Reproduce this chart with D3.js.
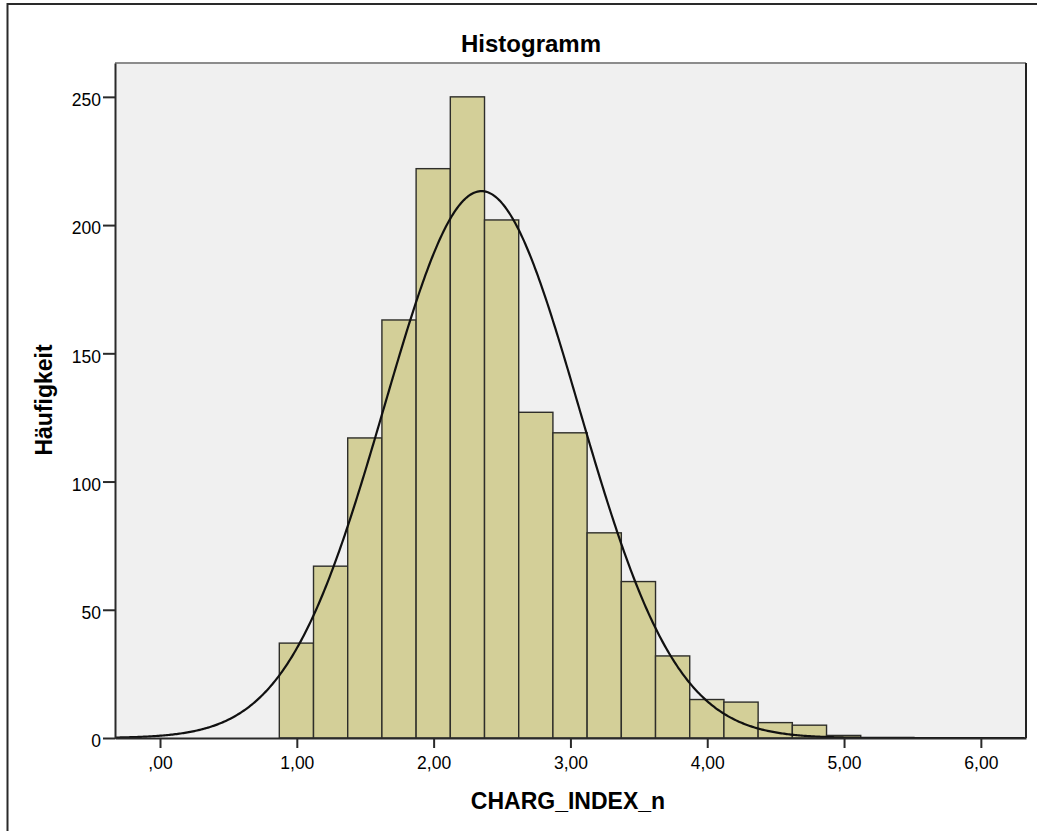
<!DOCTYPE html>
<html>
<head>
<meta charset="utf-8">
<script src="https://cdn.jsdelivr.net/npm/d3@7"></script>
<style>
  html, body { margin: 0; padding: 0; background: #ffffff; }
  svg { display: block; }
  text { font-family: "Liberation Sans", Arial, sans-serif; fill: #000; }
</style>
</head>
<body>
<svg id="chart" width="1037" height="831"></svg>
<script>
// Histogram bins (lower edges) and frequencies
const binLower = [0.872, 1.122, 1.372, 1.622, 1.872, 2.122, 2.372, 2.622, 2.872,
                  3.122, 3.372, 3.622, 3.872, 4.122, 4.372, 4.622, 4.872];
const binWidth = 0.25;
const counts = [37, 67, 117, 163, 222, 250, 202, 127, 119, 80, 61, 32, 15, 14, 6, 5, 1];

// Fitted normal distribution
const mean = 2.35;
const stdDev = 0.71;

// Axis ticks
const xTicks = [0, 1, 2, 3, 4, 5, 6];
const yTicks = [0, 50, 100, 150, 200, 250];

const xDomain = [-0.329, 6.33];
const yDomain = [0, 263.2];

const titleText = "Histogramm";
const xLabel = "CHARG_INDEX_n";
const yLabel = "Häufigkeit";

const plot = { left: 115, top: 63, right: 1026, bottom: 738 };

const svg = d3.select("#chart");

// outer frame (extends past the visible area on the right and bottom)
svg.append("rect")
  .attr("x", 7.5).attr("y", 4)
  .attr("width", 1100).attr("height", 900)
  .attr("fill", "none").attr("stroke", "#2a2a2a").attr("stroke-width", 2);

const x = d3.scaleLinear().domain(xDomain).range([plot.left, plot.right]);
const y = d3.scaleLinear().domain(yDomain).range([plot.bottom, plot.top]);

// plot background
svg.append("rect")
  .attr("x", plot.left).attr("y", plot.top)
  .attr("width", plot.right - plot.left).attr("height", plot.bottom - plot.top)
  .attr("fill", "#f0f0f0");

// bars
svg.append("g").selectAll("rect")
  .data(counts)
  .join("rect")
  .attr("x", (d, i) => x(binLower[i]))
  .attr("y", d => y(d))
  .attr("width", (d, i) => x(binLower[i] + binWidth) - x(binLower[i]))
  .attr("height", d => y(0) - y(d))
  .attr("fill", "#d3cf98")
  .attr("stroke", "#2e2e2a")
  .attr("stroke-width", 1.4);

// normal curve scaled to counts
const n = d3.sum(counts);
const density = v => n * binWidth / (stdDev * Math.sqrt(2 * Math.PI)) *
  Math.exp(-0.5 * Math.pow((v - mean) / stdDev, 2));
const curvePts = d3.range(xDomain[0], xDomain[1] + 0.001, 0.01).map(v => [v, density(v)]);
svg.append("path")
  .datum(curvePts)
  .attr("fill", "none")
  .attr("stroke", "#111")
  .attr("stroke-width", 2.2)
  .attr("d", d3.line().x(d => x(d[0])).y(d => y(d[1])));

// plot border: lighter top, darker sides
svg.append("line")
  .attr("x1", plot.left).attr("x2", plot.right)
  .attr("y1", plot.top).attr("y2", plot.top)
  .attr("stroke", "#8c8c8c").attr("stroke-width", 2);
svg.append("line")
  .attr("x1", plot.right).attr("x2", plot.right)
  .attr("y1", plot.top).attr("y2", plot.bottom)
  .attr("stroke", "#222").attr("stroke-width", 2);

// axes
const fmt = v => v === 0 ? ",00" : d3.format(".2f")(v).replace(".", ",");
const xAxis = svg.append("g")
  .attr("transform", `translate(0,${plot.bottom})`)
  .call(d3.axisBottom(x).tickValues(xTicks).tickFormat(fmt).tickSize(10).tickSizeOuter(0));
const yAxis = svg.append("g")
  .attr("transform", `translate(${plot.left},0)`)
  .call(d3.axisLeft(y).tickValues(yTicks).tickSize(12).tickSizeOuter(0));

[xAxis, yAxis].forEach(g => {
  g.select(".domain").attr("stroke", "#2a2a2a").attr("stroke-width", 2);
  g.selectAll(".tick line").attr("stroke", "#2a2a2a").attr("stroke-width", 2);
  g.selectAll(".tick text")
    .attr("font-family", "'Liberation Sans', Arial, sans-serif")
    .attr("font-size", 17.5).attr("fill", "#111");
});
xAxis.selectAll(".tick text").attr("dy", "1.05em");
yAxis.selectAll(".tick text").attr("dy", "0.5em").attr("x", -14);

// title and axis labels
svg.append("text")
  .attr("x", 531).attr("y", 52)
  .attr("text-anchor", "middle")
  .attr("font-size", 24).attr("font-weight", "bold")
  .text(titleText);

svg.append("text")
  .attr("x", 568).attr("y", 809)
  .attr("text-anchor", "middle")
  .attr("font-size", 23).attr("font-weight", "bold")
  .text(xLabel);

svg.append("text")
  .attr("transform", "translate(52,400) rotate(-90)")
  .attr("text-anchor", "middle")
  .attr("font-size", 23).attr("font-weight", "bold")
  .text(yLabel);
</script>
</body>
</html>
